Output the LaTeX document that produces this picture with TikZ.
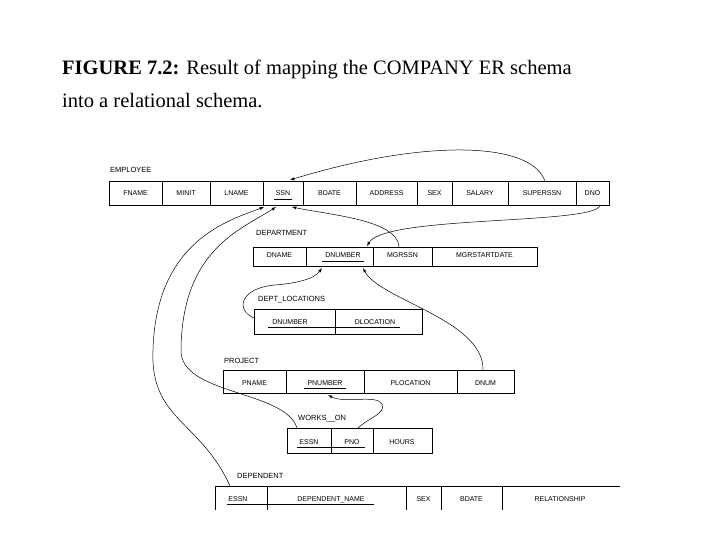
\documentclass[tikz,border=0pt]{standalone}
\usepackage{fontspec}
\setmainfont{Liberation Serif}
\newfontfamily\lsans{Liberation Sans}
\begin{document}
\begin{tikzpicture}[x=1pt,y=-1pt,
  cell/.style={draw,line width=0.6pt},
  lbl/.style={font=\lsans\fontsize{7}{8}\selectfont,inner sep=0pt,anchor=base},
  tname/.style={font=\lsans\fontsize{7.5}{9}\selectfont,anchor=west,inner sep=0pt},
  fk/.style={-latex,line width=0.5pt}]
\useasboundingbox (0,0) rectangle (720,540);
\node[anchor=west,inner sep=0pt,font=\fontsize{20.5}{24}\selectfont] (t1) at (62,69) {\textbf{FIGURE 7.2:} Result of mapping the COMPANY ER schema};
\node[anchor=west,inner sep=0pt,font=\fontsize{20.5}{24}\selectfont] (t2) at (62,101) {into a relational schema.};
% EMPLOYEE
\node[tname] (emp) at (110,170) {EMPLOYEE};
\draw[cell] (109,181) rectangle (609,205);
\foreach \x in {162,210,263,303,356,417,452,508,576} \draw[cell,line width=0.4pt] (\x,181)--(\x,205);
\foreach \t/\x in {FNAME/135.5,MINIT/186,LNAME/236.5,SSN/283,BDATE/329.5,ADDRESS/386.5,SEX/434.5,SALARY/480,SUPERSSN/542,DNO/592.5}
  \node[lbl] (e\t) at (\x,196) {\t};
\draw[line width=0.4pt] (274,199)--(292,199);
% DEPARTMENT
\node[tname] (dep) at (256,233) {DEPARTMENT};
\draw[cell] (253,247) rectangle (537,266);
\foreach \x in {306,373,432} \draw[cell,line width=0.4pt] (\x,247)--(\x,266);
\foreach \t/\x in {DNAME/279.5,DNUMBER/343,MGRSSN/402.5,MGRSTARTDATE/484.5}
  \node[lbl] (d\t) at (\x,258) {\t};
\draw[line width=0.4pt] (322,261)--(364,261);
% DEPT_LOCATIONS
\node[tname] (dl) at (258,300) {DEPT\_LOCATIONS};
\draw[cell] (254,309) rectangle (422,334);
\draw[cell,line width=0.4pt] (335,309)--(335,334);
\node[lbl] (lDN) at (290,324) {DNUMBER};
\node[lbl] (lLOC) at (375,324) {DLOCATION};
\draw[line width=0.4pt] (268,327)--(400,327);
% PROJECT
\node[tname] (proj) at (224,361) {PROJECT};
\draw[cell] (223,370) rectangle (514,393);
\foreach \x in {286,364,457} \draw[cell,line width=0.4pt] (\x,370)--(\x,393);
\foreach \t/\x in {PNAME/254.5,PNUMBER/325,PLOCATION/410.5,DNUM/485.5}
  \node[lbl] (p\t) at (\x,385) {\t};
\draw[line width=0.4pt] (304,388)--(346,388);
% WORKS_ON
\node[tname] (wo) at (298,419) {WORKS\_\_ON};
\draw[cell] (287,428) rectangle (432,453);
\foreach \x in {331,373} \draw[cell,line width=0.4pt] (\x,428)--(\x,453);
\node[lbl] (wESSN) at (309,444) {ESSN};
\node[lbl] (wPNO) at (352,444) {PNO};
\node[lbl] (wH) at (402,444) {HOURS};
\draw[line width=0.4pt] (297,447)--(365,447);
% DEPENDENT
\node[tname] (dpt) at (237,476) {DEPENDENT};
\draw[cell] (215,510)--(215,486)--(620,486);
\foreach \x in {267,406,441,502} \draw[cell,line width=0.4pt] (\x,486)--(\x,510);
\foreach \t/\x in {ESSN/238,DEPENDENT\_NAME/331,SEX/423.5,BDATE/471.5,RELATIONSHIP/560}
  \node[lbl] at (\x,501) {\t};
\draw[line width=0.4pt] (227,504)--(374,504);
% coordinates
\coordinate (sup) at (545,181);
\coordinate (ssnT) at (290,180);
\coordinate (dnoB) at (600,205);
\coordinate (dnumT) at (367,246);
\coordinate (mgrT) at (399,247);
\coordinate (ssnB1) at (292,207);
\coordinate (ssnB2) at (276,207);
\coordinate (ssnB3) at (264,207);
\coordinate (dlL) at (254,318);
\coordinate (dnumB1) at (322,268);
\coordinate (dnumB2) at (363,268);
\coordinate (dnumT2) at (483,370);
\coordinate (wE) at (297,428);
\coordinate (wP) at (358,428);
\coordinate (pnB) at (328,395);
\coordinate (deE) at (230,486);
% arrows
\draw[fk] (sup) .. controls (530,140) and (420,140) .. (ssnT);
\draw[fk] (dnoB) .. controls (598,225) and (385,215) .. (dnumT);
\draw[fk] (mgrT) .. controls (398,220) and (330,215) .. (ssnB1);
\draw[fk] (dlL) .. controls (235,310) and (240,288) .. (275,285) .. controls (300,283) and (315,278) .. (dnumB1);
\draw[fk] (dnumT2) .. controls (484,320) and (380,300) .. (dnumB2);
\draw[fk] (wP) .. controls (368,418) and (386,414) .. (382,404) .. controls (376,394) and (345,404) .. (pnB);
\draw[fk] (wE) .. controls (285,390) and (180,395) .. (181,350) .. controls (182,250) and (240,230) .. (ssnB2);
\draw[fk] (deE) .. controls (200,420) and (150,420) .. (153,350) .. controls (156,240) and (230,220) .. (ssnB3);
\end{tikzpicture}
\end{document}
